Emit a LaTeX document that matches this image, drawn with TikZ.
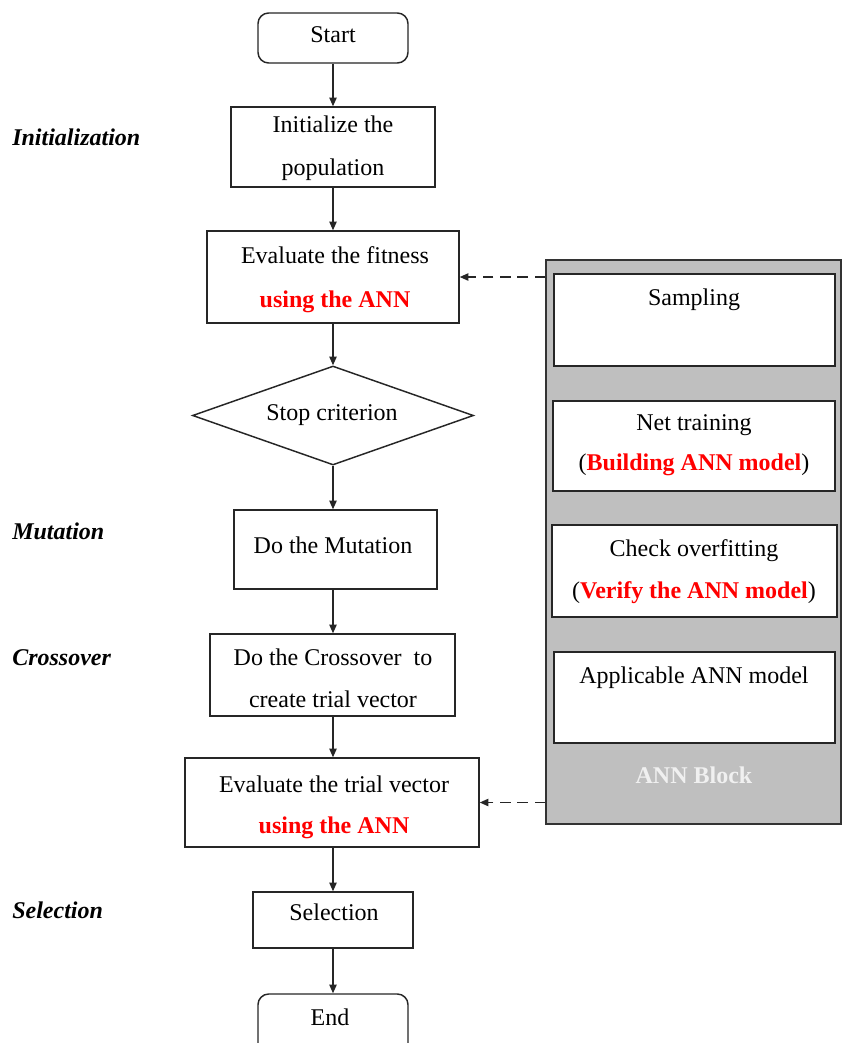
\documentclass[tikz,border=0pt]{standalone}
\usepackage{fontspec}
\setmainfont{Liberation Serif}
\usetikzlibrary{fit,shapes.geometric,arrows.meta}
\begin{document}
\begin{tikzpicture}[x=0.75pt,y=-0.75pt,
  box/.style={draw=black!85,line width=1.1pt,inner sep=0pt,fill=white},
  term/.style={box,rounded corners=8pt},
  txt/.style={font=\fontsize{18}{21}\selectfont,anchor=base,inner sep=0pt},
  hot/.style={txt,text=red,font=\fontsize{18}{21}\selectfont\bfseries},
  stage/.style={font=\fontsize{18}{21}\selectfont\bfseries\itshape,anchor=base west,inner sep=0pt},
  flow/.style={line width=1.1pt,draw=black!85,-{Triangle[length=6.5pt,width=5.5pt]}},
  feed/.style={flow,dash pattern=on 8pt off 5pt}]
\useasboundingbox (0,0) rectangle (842,1043);
\clip (0,0) rectangle (842,1043);

% main flow boxes
\node[term,fit={(258,13) (408,63)}] (start) {};
\node[box,fit={(231,107) (435,187)}] (init) {};
\node[box,fit={(207,231) (459,323)}] (fit) {};
\node[box,diamond,minimum width=210.75pt,minimum height=74.25pt] (stop) at (333,415.5) {};
\node[box,fit={(234,510) (437,589)}] (mut) {};
\node[box,fit={(210,634) (455,716)}] (cross) {};
\node[box,fit={(185,758) (479,847)}] (trial) {};
\node[box,fit={(253,892) (413,948)}] (sel) {};
\node[term,fit={(258,994) (408,1060)}] (end) {};

% texts of the main flow
\node[txt] (tstart) at (333,42) {Start};
\node[txt] (tinit1) at (333,132) {Initialize the};
\node[txt] (tinit2) at (333,175) {population};
\node[txt] (tfit1) at (335,263) {Evaluate the fitness};
\node[hot] (tfit2) at (335,307) {using the ANN};
\node[txt] (tstop) at (332,420) {Stop criterion};
\node[txt] (tmut) at (333,553) {Do the Mutation};
\node[txt] (tcross1) at (333,665) {Do the Crossover\ \ to};
\node[txt] (tcross2) at (333,707) {create trial vector};
\node[txt] (ttrial1) at (334,792) {Evaluate the trial vector};
\node[hot] (ttrial2) at (334,833) {using the ANN};
\node[txt] (tsel) at (334,920) {Selection};
\node[txt] (tend) at (330,1025) {End};

% stage labels
\node[stage] (linit) at (12,145) {Initialization};
\node[stage] (lmut) at (12,539) {Mutation};
\node[stage] (lcross) at (12,665) {Crossover};
\node[stage] (lsel) at (12,918) {Selection};

% ANN block
\node[draw=black!80,line width=1.1pt,fill=black!25,inner sep=0pt,fit={(546,260) (841,824)}] (ann) {};
\node[box,fit={(554,274) (835,366)}] (samp) {};
\node[box,fit={(553,401) (835,491)}] (train) {};
\node[box,fit={(552,525) (837,617)}] (check) {};
\node[box,fit={(554,652) (835,743)}] (apply) {};
\node[txt] (tsamp) at (694,305) {Sampling};
\node[txt] (ttrain1) at (694,430) {Net training};
\node[txt] (ttrain2) at (694,470) {(\textcolor{red}{\bfseries Building ANN model})};
\node[txt] (tcheck1) at (694,556) {Check overfitting};
\node[txt] (tcheck2) at (694,598) {(\textcolor{red}{\bfseries Verify the ANN model})};
\node[txt] (tapply) at (694,683) {Applicable ANN model};
\node[txt,text=white!94!black,font=\fontsize{18}{21}\selectfont\bfseries] (tann) at (694,783) {ANN Block};

% connectors, all on the vertical line through the start box
\draw[flow] (start.south) -- (init.north -| start.south);
\draw[flow] (init.south -| start.south) -- (fit.north -| start.south);
\draw[flow] (fit.south -| start.south) -- (stop.north);
\draw[flow] (stop.south) -- (mut.north -| start.south);
\draw[flow] (mut.south -| start.south) -- (cross.north -| start.south);
\draw[flow] (cross.south -| start.south) -- (trial.north -| start.south);
\draw[flow] (trial.south -| start.south) -- (sel.north -| start.south);
\draw[flow] (sel.south -| start.south) -- (end.north -| start.south);
\draw[feed] (ann.west |- fit.east) -- (fit.east);
\draw[feed] (ann.west |- trial.east) -- (trial.east);
\end{tikzpicture}
\end{document}
